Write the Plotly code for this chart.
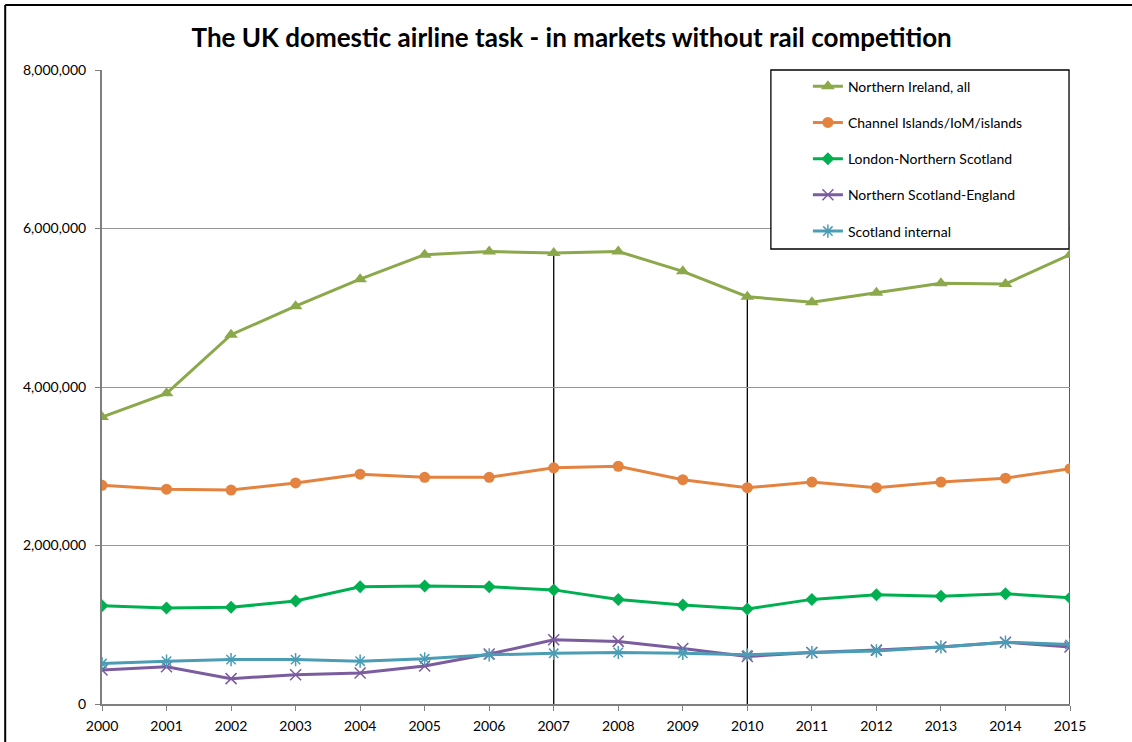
import plotly.graph_objects as go

years = list(range(2000, 2016))

northern_ireland = [3.62e6, 3.92e6, 4.66e6, 5.02e6, 5.36e6, 5.67e6, 5.71e6, 5.69e6,
                    5.71e6, 5.46e6, 5.14e6, 5.07e6, 5.19e6, 5.31e6, 5.30e6, 5.67e6]
channel_islands = [2.76e6, 2.71e6, 2.70e6, 2.79e6, 2.90e6, 2.86e6, 2.86e6, 2.98e6,
                   3.00e6, 2.83e6, 2.73e6, 2.80e6, 2.73e6, 2.80e6, 2.85e6, 2.97e6]
london_n_scotland = [1.24e6, 1.21e6, 1.22e6, 1.30e6, 1.48e6, 1.49e6, 1.48e6, 1.44e6,
                     1.32e6, 1.25e6, 1.20e6, 1.32e6, 1.38e6, 1.36e6, 1.39e6, 1.34e6]
n_scotland_england = [0.43e6, 0.47e6, 0.32e6, 0.37e6, 0.39e6, 0.48e6, 0.63e6, 0.81e6,
                      0.79e6, 0.70e6, 0.60e6, 0.65e6, 0.68e6, 0.72e6, 0.78e6, 0.72e6]
scotland_internal = [0.51e6, 0.54e6, 0.56e6, 0.56e6, 0.54e6, 0.57e6, 0.62e6, 0.64e6,
                     0.65e6, 0.64e6, 0.62e6, 0.65e6, 0.67e6, 0.72e6, 0.78e6, 0.75e6]

series_names = ["Northern Ireland, all", "Channel Islands/IoM/islands",
                "London-Northern Scotland", "Northern Scotland-England",
                "Scotland internal"]

y_tick_values = [0, 2e6, 4e6, 6e6, 8e6]
y_tick_labels = ["0", "2,000,000", "4,000,000", "6,000,000", "8,000,000"]

# years marked with a vertical line dropped from the Northern Ireland series
marked_years = [2007, 2010, 2015]

FONT = "Lato"

styles = [
    dict(color="#8BA84B", symbol="triangle-up", size=12, lw=0),
    dict(color="#E3833F", symbol="circle", size=11, lw=0),
    dict(color="#00B050", symbol="diamond", size=10, lw=0),
    dict(color="#7B5C9E", symbol="x-thin-open", size=11, lw=1.5),
    dict(color="#4A9DB5", symbol="asterisk-open", size=11, lw=1.5),
]
all_series = [northern_ireland, channel_islands, london_n_scotland,
              n_scotland_england, scotland_internal]

fig = go.Figure()
for i, (name, vals, st) in enumerate(zip(series_names, all_series, styles)):
    fig.add_trace(go.Scatter(
        x=years, y=vals, name=name, mode="lines+markers",
        legendgroup=f"g{i}",
        line=dict(color=st["color"], width=3),
        marker=dict(symbol=st["symbol"], size=st["size"], color=st["color"],
                    line=dict(color=st["color"], width=st["lw"])),
    ))

shapes = []
for yr in marked_years:
    yval = northern_ireland[years.index(yr)]
    shapes.append(dict(type="line", xref="x", yref="y", x0=yr, x1=yr, y0=0, y1=yval,
                       line=dict(color="#000000", width=1.3), layer="below"))

# outer chart frame (left and top edges)
shapes.append(dict(type="line", xref="paper", yref="paper", x0=-0.1, x1=-0.1,
                   y0=-0.07, y1=1.1025, line=dict(color="#000000", width=2)))
shapes.append(dict(type="line", xref="paper", yref="paper", x0=-0.1, x1=1.07,
                   y0=1.1025, y1=1.1025, line=dict(color="#000000", width=2)))
# legend box
shapes.append(dict(type="rect", xref="paper", yref="paper", x0=0.691, x1=0.999,
                   y0=0.7177, y1=1.0, line=dict(color="#000000", width=1.3),
                   fillcolor="white", layer="above"))

fig.update_layout(
    width=1132, height=742,
    margin=dict(l=102, r=62, t=70, b=38, autoexpand=False),
    paper_bgcolor="white", plot_bgcolor="white",
    font=dict(family=FONT, size=14, color="#000000"),
    title=dict(text="<b>The UK domestic airline task - in markets without rail competition</b>",
               x=0.505, xanchor="center", y=0.949, yanchor="middle",
               font=dict(family=FONT, size=26, color="#000000")),
    shapes=shapes,
    showlegend=True,
    legend=dict(x=0.691, xanchor="left", y=0.999, yanchor="top",
                bgcolor="rgba(0,0,0,0)", borderwidth=0,
                indentation=37, tracegroupgap=15,
                font=dict(family=FONT, size=14, color="#000000")),
)

fig.update_xaxes(range=[2000, 2015], tickmode="array", tickvals=years,
                 ticktext=[str(y) for y in years], automargin=False,
                 showline=True, linecolor="#7F7F7F", linewidth=2,
                 ticks="outside", ticklen=5, tickcolor="#7F7F7F",
                 ticklabelstandoff=3,
                 showgrid=False, zeroline=False, tickfont=dict(size=14))
fig.update_yaxes(range=[0, 8e6], tickmode="array",
                 tickvals=y_tick_values, ticktext=y_tick_labels, automargin=False,
                 showline=True, linecolor="#7F7F7F", linewidth=2,
                 ticks="outside", ticklen=5, tickcolor="#7F7F7F",
                 ticklabelstandoff=6,
                 showgrid=True, gridcolor="#969696", gridwidth=1,
                 zeroline=False, tickfont=dict(size=14))

fig.write_html("out.html")
